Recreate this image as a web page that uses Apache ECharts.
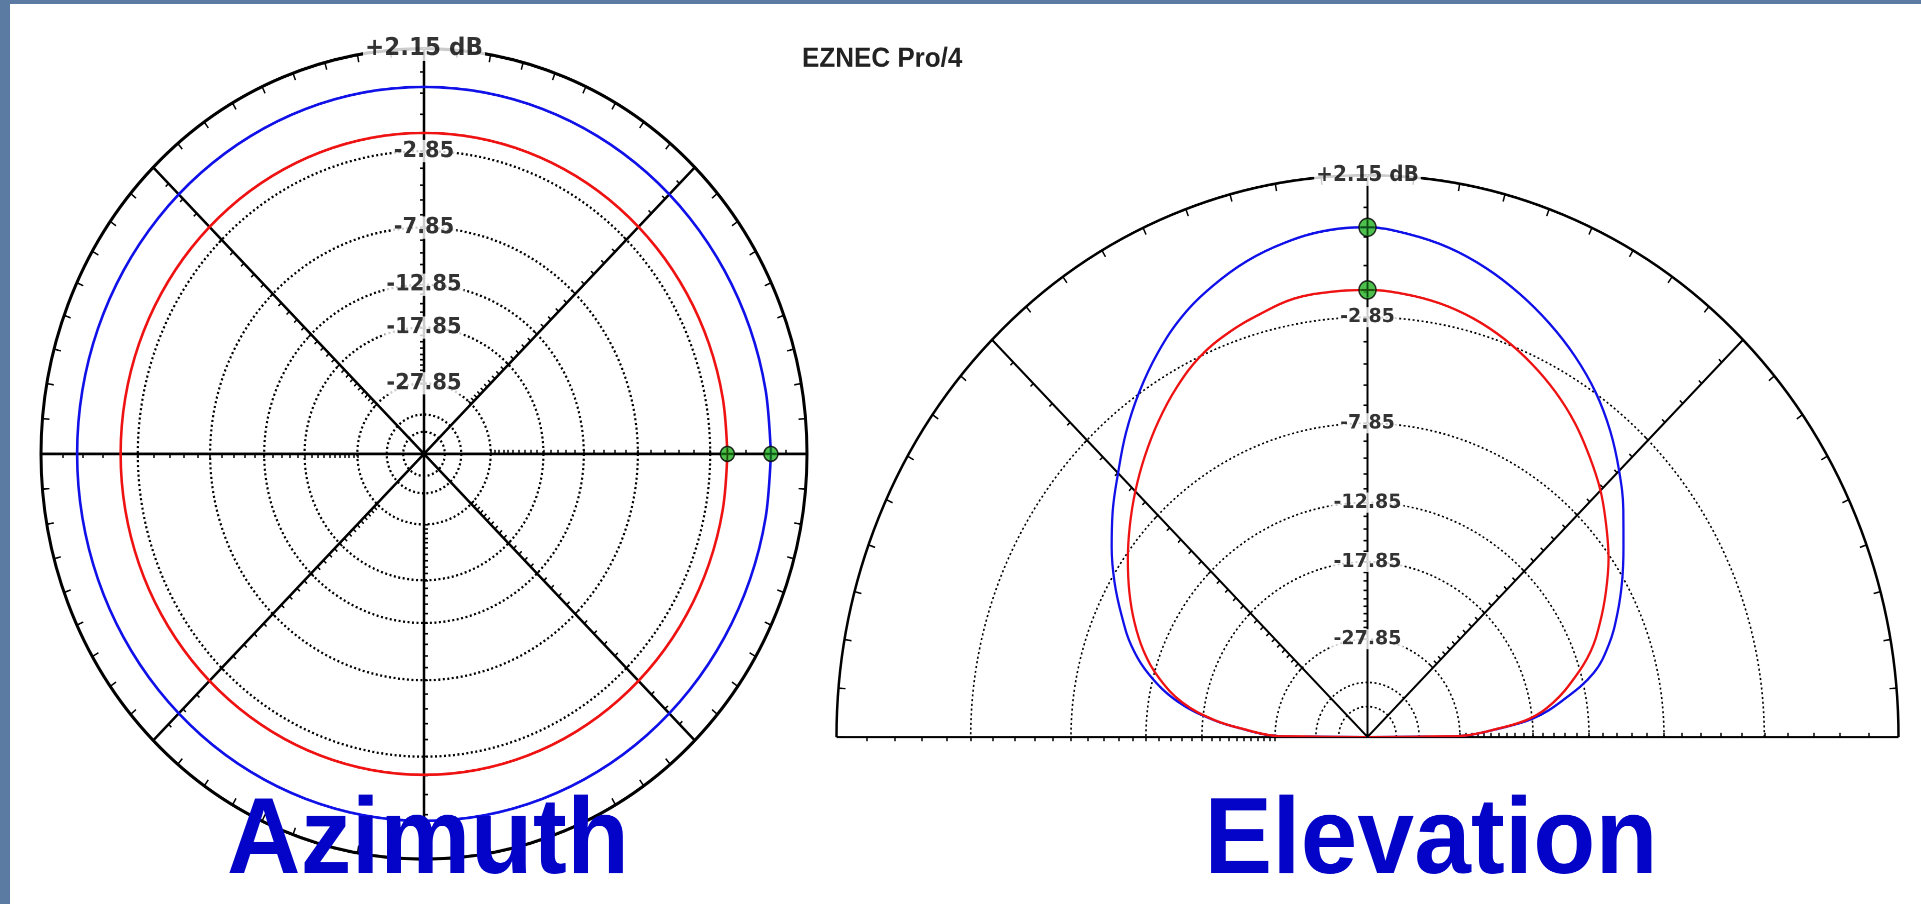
<!DOCTYPE html>
<html>
<head>
<meta charset="utf-8">
<script src="https://cdn.jsdelivr.net/npm/echarts@6.0.0/dist/echarts.min.js"></script>
<style>
html, body { margin: 0; padding: 0; }
body { width: 1921px; height: 904px; background: #5b7ba3; overflow: hidden; position: relative; }
#panel { position: absolute; left: 10px; top: 4px; width: 1911px; height: 900px; background: #fff; }
/* the EZNEC picture is stretched a bit vertically, so the plot is drawn circular and scaled */
#main { position: absolute; left: 0; top: 0; width: 1921px; height: 855px; transform: scaleY(1.058); transform-origin: 0 0; }
</style>
</head>
<body>
<div id="panel"></div>
<div id="main"></div>
<script type="text/javascript">
// gains in dBi, ARRL log scale (0.89 per 2 dB), outer ring = max gain
var maxGain = 2.15;
var ringGains = [-2.85, -7.85, -12.85, -17.85, -27.85, -37.85, -47.85];
var ringLabels = ['-2.85', '-7.85', '-12.85', '-17.85', '-27.85'];
var topLabel = '+2.15 dB';

// azimuth pattern (deg, dBi)
var azAngles = [0,10,20,30,40,50,60,70,80,90,100,110,120,130,140,150,160,170,180,
                190,200,210,220,230,240,250,260,270,280,290,300,310,320,330,340,350,360];
var azBlue = [0.45,0.45,0.45,0.45,0.45,0.45,0.45,0.45,0.45,0.45,0.45,0.45,0.45,0.45,0.45,0.45,0.45,0.45,0.45,
              0.45,0.45,0.45,0.45,0.45,0.45,0.45,0.45,0.45,0.45,0.45,0.45,0.45,0.45,0.45,0.45,0.45,0.45];
var azRed = [-1.85,-1.85,-1.85,-1.85,-1.85,-1.85,-1.85,-1.85,-1.85,-1.85,-1.85,-1.85,-1.85,-1.85,-1.85,-1.85,-1.85,-1.85,-1.85,
             -1.85,-1.85,-1.85,-1.85,-1.85,-1.85,-1.85,-1.85,-1.85,-1.85,-1.85,-1.85,-1.85,-1.85,-1.85,-1.85,-1.85,-1.85];

// elevation pattern (deg above horizon, dBi)
var elAngles = [0,0.5,1,3,6,10,15,20,25,30,35,40,45,50,55,60,65,70,75,80,85,90,
                95,100,105,110,115,120,125,130,135,140,145,150,155,160,165,170,174,177,179,179.5,180];
var elBlue = [-99,-30,-26.3,-22.6,-17.8,-14.8,-11.9,-10.3,-9.1,-8.0,-6.95,-5.81,-4.72,-3.70,-2.81,-2.07,-1.43,-0.86,-0.36,0.04,0.31,0.48,
              0.43,0.22,-0.10,-0.56,-1.13,-1.90,-2.80,-3.79,-4.87,-5.88,-6.96,-8.11,-9.38,-10.71,-12.55,-15.25,-18.98,-23.4,-26.8,-30,-99];
var elRed = [-99,-30,-26.4,-22.7,-18.23,-15.6,-13.46,-11.65,-10.33,-9.12,-7.98,-7.0,-6.04,-5.22,-4.43,-3.76,-3.19,-2.70,-2.31,-2.03,-1.86,-1.77,
             -1.78,-1.84,-2.12,-2.43,-2.86,-3.52,-4.31,-5.18,-6.10,-7.07,-8.08,-9.14,-10.29,-11.6,-13.29,-15.67,-19.1,-23.5,-26.9,-30,-99];

var toR = function(g) {
    return Math.pow(0.89, (maxGain - g) / 2);
};
// radial tick marks every 1 dB
var tickR = [];
for (var d = 1; d <= 30; d++) {
    tickR.push(Math.pow(0.89, d / 2));
}

var option = {
    animation: false,
    polar: [],
    angleAxis: [],
    radiusAxis: [],
    series: [],
    graphic: []
};

var addPolar = function(center, radius, angleAxis, radiusAxis) {
    var i = option.polar.length;
    option.polar.push({ center: center, radius: radius });
    angleAxis.polarIndex = i;
    radiusAxis.polarIndex = i;
    option.angleAxis.push(angleAxis);
    option.radiusAxis.push(radiusAxis);
    return i;
};
var hiddenAngle = function(extra) {
    return Object.assign({
        type: 'value', min: 0, max: 360, startAngle: 0, clockwise: false,
        axisLine: { show: false }, axisTick: { show: false },
        axisLabel: { show: false }, splitLine: { show: false }
    }, extra);
};
var hiddenRadius = function(extra) {
    return Object.assign({
        type: 'value', min: 0, max: 1,
        axisLine: { show: false }, axisTick: { show: false },
        axisLabel: { show: false }, splitLine: { show: false }
    }, extra);
};
var radialTicks = {
    show: true, customValues: tickR, length: 4,
    lineStyle: { color: '#000', width: 1.5 }
};

var buildPlot = function(p) {
    var arc = p.span === 180
        ? { startAngle: 0, endAngle: 180, clockwise: false }
        : { startAngle: 0, clockwise: false };
    var main = addPolar(p.center, p.R,
        Object.assign({
            type: 'value', min: 0, max: p.span, interval: 45,
            axisLine: { lineStyle: { color: '#000', width: p.outerW } },
            axisTick: { show: true, inside: true, length: 7, lineStyle: { color: '#000', width: 1.5 } },
            minorTick: { show: true, splitNumber: 9, length: 7, lineStyle: { color: '#000', width: 1.5 } },
            axisLabel: { show: false },
            splitLine: { show: true, lineStyle: { color: '#000', width: p.spokeW } }
        }, arc),
        hiddenRadius({ axisTick: radialTicks }));

    // dotted level rings
    ringGains.forEach(function(g) {
        addPolar(p.center, p.R * toR(g),
            hiddenAngle(Object.assign({
                max: p.span,
                axisLine: { show: true, lineStyle: { color: '#000', width: p.ringW, type: [2, 2.5] } }
            }, arc)),
            hiddenRadius({}));
    });
    // tick marks on the other spokes
    p.spokes.forEach(function(a) {
        addPolar(p.center, p.R, hiddenAngle({ startAngle: a }), hiddenRadius({ axisTick: radialTicks }));
    });

    p.curves.forEach(function(c) {
        option.series.push({
            type: 'line', coordinateSystem: 'polar', polarIndex: main,
            data: c.angles.map(function(a, i) { return [toR(c.gains[i]), a]; }),
            showSymbol: false, smooth: p.smooth, silent: true, z: 5,
            lineStyle: { color: c.color, width: p.curveW }
        });
    });

    var peaks = p.curves.map(function(c) {
        var i = c.angles.indexOf(p.peakAngle);
        return [toR(c.gains[i]), p.peakAngle];
    });
    option.series.push({
        type: 'scatter', coordinateSystem: 'polar', polarIndex: main, data: peaks,
        symbol: 'circle', symbolSize: p.markSize, z: 10, silent: true,
        itemStyle: { color: '#22b022', borderColor: '#000', borderWidth: 1.5 }
    });
    option.series.push({
        type: 'scatter', coordinateSystem: 'polar', polarIndex: main, data: peaks,
        symbol: 'path://M0,4.4 L10,4.4 L10,5.6 L0,5.6 Z M4.4,0 L5.6,0 L5.6,10 L4.4,10 Z',
        symbolSize: p.markSize - 3, z: 11, silent: true,
        itemStyle: { color: '#0a3a0a' }
    });

    var labelStyle = function(size) {
        return {
            show: true, position: 'inside', formatter: '{b}',
            color: '#000', fontFamily: 'DejaVu Sans', fontWeight: 'bold', fontSize: size,
            backgroundColor: '#fff', padding: [0, 2]
        };
    };
    option.series.push({
        type: 'scatter', coordinateSystem: 'polar', polarIndex: main, z: 8, silent: true,
        symbolSize: 1, itemStyle: { color: '#fff' },
        data: ringLabels.map(function(t) { return { name: t, value: [toR(parseFloat(t)), 90] }; }),
        label: labelStyle(p.labelSize)
    });
    option.series.push({
        type: 'scatter', coordinateSystem: 'polar', polarIndex: main, z: 8, silent: true,
        symbolSize: 1, itemStyle: { color: '#fff' },
        data: [{ name: topLabel, value: [1, 90] }],
        label: labelStyle(p.topSize)
    });
};

buildPlot({
    center: [424, 429], R: 383, span: 360,
    spokes: [45, 90, 135, 180, 225, 270, 315],
    outerW: 3, spokeW: 2.5, ringW: 2.2, curveW: 2.6, smooth: 0.34,
    labelSize: 21, topSize: 23, peakAngle: 0, markSize: 14,
    curves: [
        { angles: azAngles, gains: azBlue, color: '#1010e8' },
        { angles: azAngles, gains: azRed, color: '#ee1212' }
    ]
});
buildPlot({
    center: [1367.5, 696.6], R: 531, span: 180,
    spokes: [45, 90, 135, 180],
    outerW: 2.5, spokeW: 2, ringW: 1.6, curveW: 2.3, smooth: 0.38,
    labelSize: 19, topSize: 20, peakAngle: 90, markSize: 17,
    curves: [
        { angles: elAngles, gains: elBlue, color: '#1010e8' },
        { angles: elAngles, gains: elRed, color: '#ee1212' }
    ]
});

option.graphic = [{
    type: 'text', x: 802, y: 56, z: 20,
    style: { text: 'EZNEC Pro/4', font: 'bold 26px "Liberation Sans"', fill: '#222', verticalAlign: 'middle' }
}, {
    type: 'text', x: 428, y: 797, z: 20,
    style: {
        text: 'Azimuth', font: 'bold 102px "Liberation Sans"', fill: '#0404c8',
        align: 'center', verticalAlign: 'middle',
        shadowColor: 'rgba(0,0,0,0.6)', shadowBlur: 4, shadowOffsetX: 4, shadowOffsetY: 4
    }
}, {
    type: 'text', x: 1431, y: 797, z: 20,
    style: {
        text: 'Elevation', font: 'bold 102px "Liberation Sans"', fill: '#0404c8',
        align: 'center', verticalAlign: 'middle',
        shadowColor: 'rgba(0,0,0,0.6)', shadowBlur: 4, shadowOffsetX: 4, shadowOffsetY: 4
    }
}];

var chart = echarts.init(document.getElementById('main'), null, { devicePixelRatio: 2 });
chart.setOption(option);
</script>
</body>
</html>
